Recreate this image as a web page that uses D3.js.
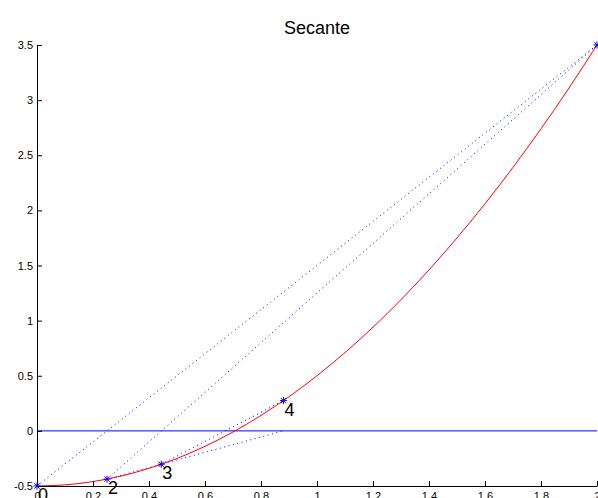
<!DOCTYPE html>
<html><head><meta charset="utf-8">
<script src="https://cdn.jsdelivr.net/npm/d3@7"></script>
<style>body{margin:0;background:#fff;}svg{display:block;font-family:"Liberation Sans",Arial,Helvetica,sans-serif;}</style>
</head><body>
<script>
// Function curve
const curveX = [0,0.1,0.2,0.3,0.4,0.5,0.6,0.7,0.8,0.9,1.0,1.1,1.2,1.3,1.4,1.5,1.6,1.7,1.8,1.9,2.0];
const curveY = [-0.5,-0.49,-0.46,-0.41,-0.34,-0.25,-0.14,-0.01,0.14,0.31,0.5,0.71,0.94,1.19,1.46,1.75,2.06,2.39,2.74,3.11,3.5];
// Iterates (the label of the point at x=2 lies outside the picture)
const iterX = [0, 2, 0.25, 0.444, 0.88];
const iterY = [-0.5, 3.5, -0.4375, -0.3025, 0.2746];
const iterLabels = ["0","","2","3","4"];
// Secant segments (start x, start y, end x, end y)
const secX1 = [0, 0.25, 0.25, 0.444];
const secY1 = [-0.5, -0.4375, -0.4375, -0.3025];
const secX2 = [2, 2, 0.88, 0.88];
const secY2 = [3.5, 3.5, 0, 0.2746];
const xTicks = [0,0.2,0.4,0.6,0.8,1,1.2,1.4,1.6,1.8,2];
const yTicks = [-0.5,0,0.5,1,1.5,2,2.5,3,3.5];
const title = "Secante";

const W=598,H=498;
const svg=d3.select("body").append("svg").attr("width",W).attr("height",H);
const x=d3.scaleLinear().domain([0,2]).range([37,597]);
const y=d3.scaleLinear().domain([-0.5,3.5]).range([486,45]);

// zero line
svg.append("line").attr("x1",x(0)).attr("x2",x(2)).attr("y1",y(0)).attr("y2",y(0))
  .attr("stroke","#0000ff").attr("stroke-width",1);

// secants
secX1.forEach((d,i)=>{
  svg.append("line").attr("x1",x(secX1[i])).attr("y1",y(secY1[i])).attr("x2",x(secX2[i])).attr("y2",y(secY2[i]))
    .attr("stroke","#0000ff").attr("stroke-width",1).attr("stroke-dasharray","1,3.5");
});

// curve
const pts=curveX.map((d,i)=>[d,curveY[i]]);
svg.append("path").datum(pts).attr("fill","none").attr("stroke","#ff0000").attr("stroke-width",1)
  .attr("d",d3.line().x(d=>x(d[0])).y(d=>y(d[1])).curve(d3.curveNatural));

// axes
const xAxis=d3.axisBottom(x).tickValues(xTicks).tickSizeInner(-5).tickSizeOuter(0).tickFormat(d3.format("~g"));
const yAxis=d3.axisLeft(y).tickValues(yTicks).tickSizeInner(-5).tickSizeOuter(0).tickFormat(d=>d3.format("~g")(d).replace("−","-"));
const gx=svg.append("g").attr("transform",`translate(0,${y(-0.5)})`).call(xAxis);
const gy=svg.append("g").attr("transform",`translate(${x(0)},0)`).call(yAxis);
[gx,gy].forEach(g=>{
  g.selectAll("path").attr("stroke","#000");
  g.selectAll("line").attr("stroke","#000");
  g.selectAll("text").attr("font-size",11).attr("fill","#000").attr("font-family","'Liberation Sans',Arial,sans-serif");
});
gx.selectAll("text").attr("dy","0.71em").attr("y",6);
gy.selectAll("text").attr("x",-4);

// markers
iterX.forEach((d,i)=>{
  const cx=x(iterX[i]), cy=y(iterY[i]), r=3.5;
  const g=svg.append("g").attr("stroke","#0000ff").attr("stroke-width",1);
  g.append("line").attr("x1",cx-r).attr("x2",cx+r).attr("y1",cy).attr("y2",cy);
  g.append("line").attr("x1",cx).attr("x2",cx).attr("y1",cy-r).attr("y2",cy+r);
  g.append("line").attr("x1",cx-r*0.75).attr("x2",cx+r*0.75).attr("y1",cy-r*0.75).attr("y2",cy+r*0.75);
  g.append("line").attr("x1",cx-r*0.75).attr("x2",cx+r*0.75).attr("y1",cy+r*0.75).attr("y2",cy-r*0.75);
  if(iterLabels[i]) svg.append("text").attr("x",cx+1).attr("y",cy+15).attr("font-size",18).attr("fill","#000").text(iterLabels[i]);
});

svg.append("text").attr("x",317).attr("y",34).attr("text-anchor","middle").attr("font-size",18).attr("fill","#000").text(title);
</script>
</body></html>
